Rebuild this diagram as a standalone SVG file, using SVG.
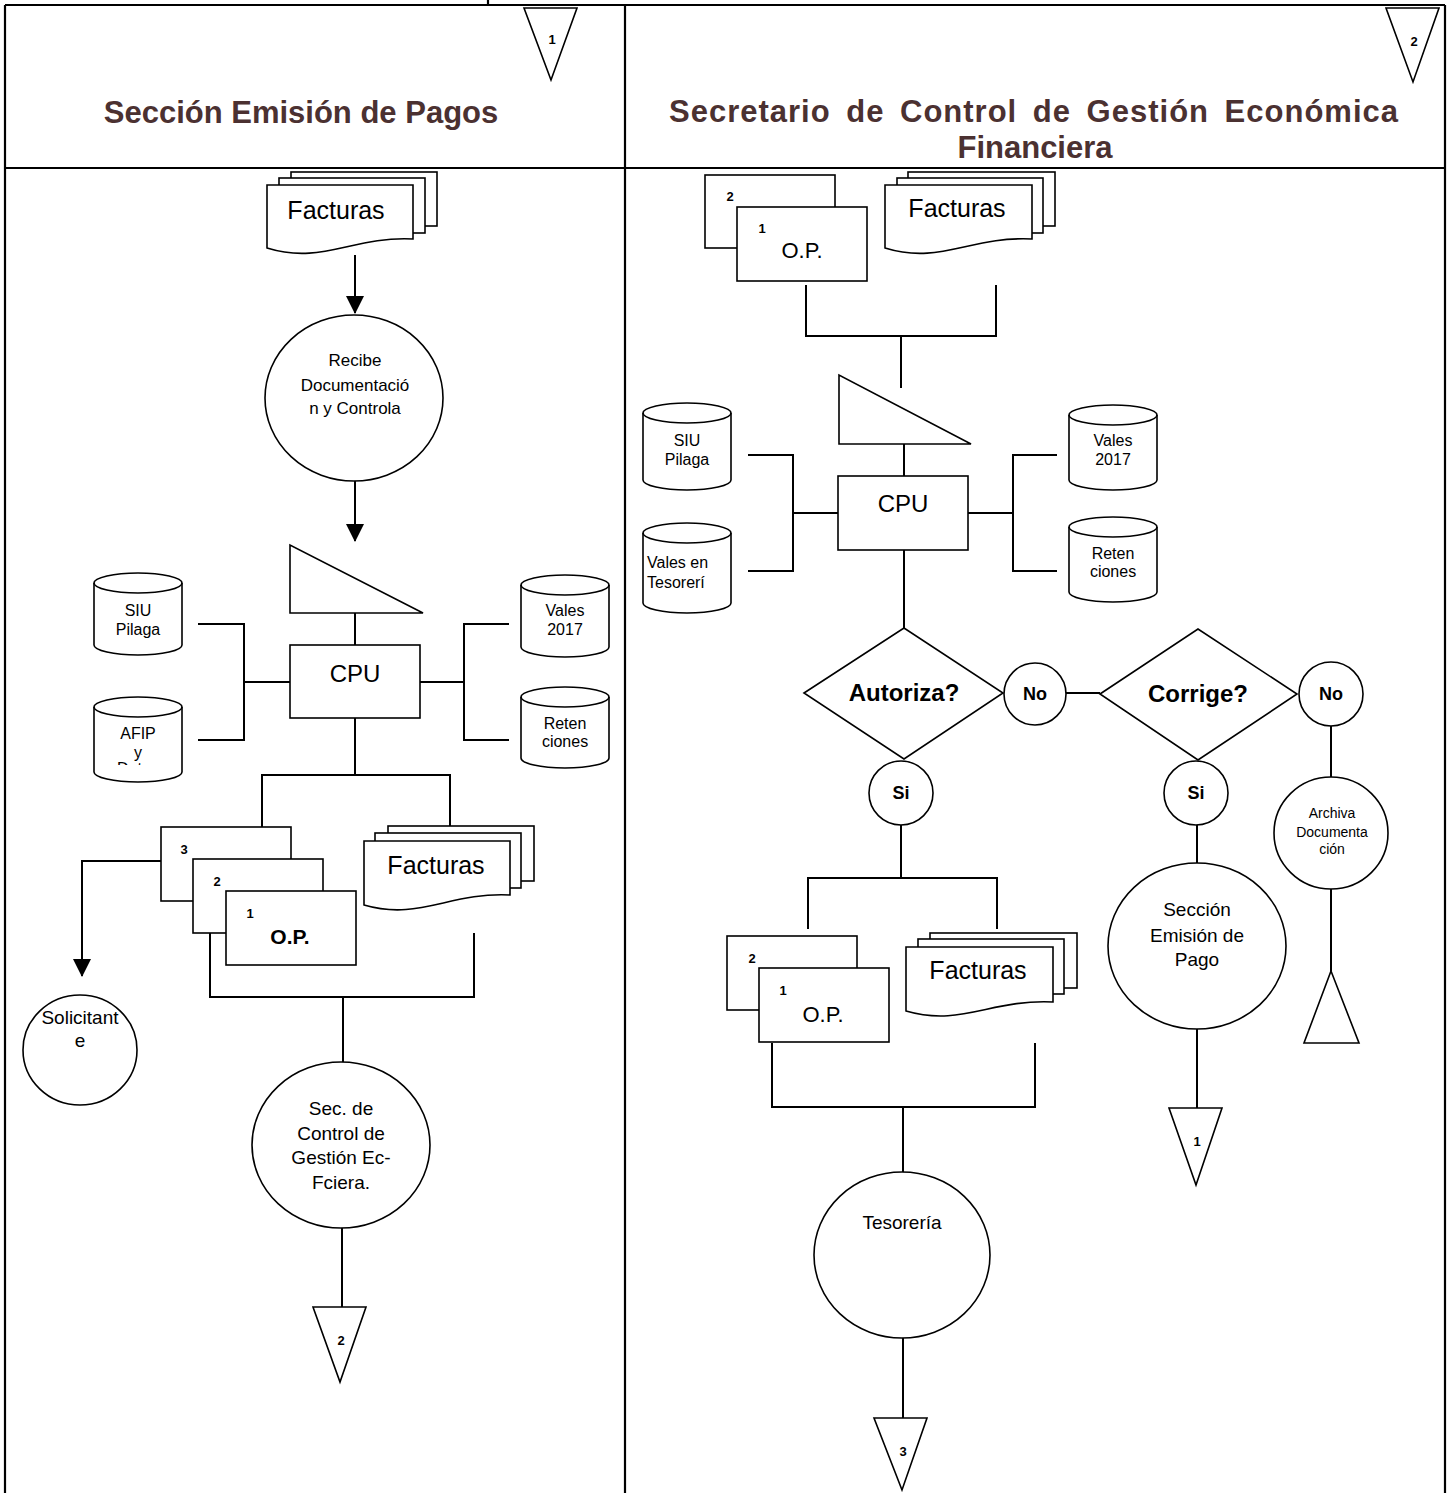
<svg xmlns="http://www.w3.org/2000/svg" width="1450" height="1493" viewBox="0 0 1450 1493">
<style>
.s{fill:#fff;stroke:#000;stroke-width:1.6}
.o{fill:none;stroke:#000;stroke-width:1.6}
.ln{fill:none;stroke:#000;stroke-width:2}
.bd{fill:none;stroke:#000;stroke-width:2.2}
text{font-family:"Liberation Sans",Arial,sans-serif;fill:#000;text-anchor:middle}
.ttl{font-size:31px;font-weight:bold;fill:#4b3131}
.b{font-weight:bold}
.n{font-size:13px;font-weight:bold}
.fac{font-size:25px}
.cyl{font-size:16px}
.big{font-size:19px}
</style>
<defs>
<marker id="ah" markerUnits="userSpaceOnUse" markerWidth="18" markerHeight="18" viewBox="0 0 18 18" refX="17" refY="9" orient="auto">
<path d="M0,0 L18,9 L0,18 z" fill="#000"/>
</marker>
<clipPath id="afipclip"><rect x="90" y="700" width="100" height="65"/></clipPath>
</defs>

<g id="table">
<path class="bd" d="M5,5 H1445 M5,5 V1493 M1445,5 V1493 M625,5 V1493 M5,168 H1445 M488,0 V5"/>
</g>

<g id="titles">
<text class="ttl" x="301" y="123">Sección Emisión de Pagos</text>
<text class="ttl" x="1034" y="122" style="word-spacing:6px;letter-spacing:1px">Secretario de Control de Gestión Económica</text>
<text class="ttl" x="1035" y="158">Financiera</text>
</g>

<g id="off-page-1-top">
<path class="s" d="M524,8 H577 L551,80 Z"/>
<text class="n" x="552" y="44">1</text>
</g>
<g id="off-page-2-top">
<path class="s" d="M1386,8 H1439 L1413,82 Z"/>
<text class="n" x="1414" y="46">2</text>
</g>

<g id="connectors">
<path class="ln" d="M355,255 V313" marker-end="url(#ah)"/>
<path class="ln" d="M355,481 V541" marker-end="url(#ah)"/>
<path class="ln" d="M355,613 V645"/>
<path class="ln" d="M198,624 H244 V740 H198 M244,682 H290"/>
<path class="ln" d="M419,682 H464 M509,624 H464 V740 H509"/>
<path class="ln" d="M355,718 V775 M262,827 V775 H450 V826"/>
<path class="ln" d="M161,861 H82 V976" marker-end="url(#ah)"/>
<path class="ln" d="M210,932 V997 H474 V933 M343,997 V1062"/>
<path class="ln" d="M342,1228 V1307"/>
<path class="ln" d="M806,285 V336 H996 V285 M901,336 V388"/>
<path class="ln" d="M904,444 V476"/>
<path class="ln" d="M748,455 H793 V571 H748 M793,513 H838"/>
<path class="ln" d="M968,513 H1013 M1057,455 H1013 V571 H1057"/>
<path class="ln" d="M904,550 V628"/>
<path class="ln" d="M1066,693 H1100"/>
<path class="ln" d="M901,825 V878 M808,929 V878 H997 V929"/>
<path class="ln" d="M772,1043 V1107 H1035 V1043 M903,1107 V1173"/>
<path class="ln" d="M903,1338 V1418"/>
<path class="ln" d="M1197,825 V863"/>
<path class="ln" d="M1197,1029 V1108"/>
<path class="ln" d="M1331,726 V777"/>
<path class="ln" d="M1331,889 V971"/>
</g>

<g id="facturas-1" transform="translate(267,185)">
<rect class="s" x="24" y="-13" width="146" height="54"/>
<rect class="s" x="12" y="-7" width="146" height="55"/>
<path class="s" d="M0,0 H146 V54 C85,51 55,80 0,63 Z"/>
<text class="fac" x="69" y="34">Facturas</text>
</g>

<g id="recibe">
<ellipse class="s" cx="354" cy="398" rx="89" ry="83"/>
<text style="font-size:17px" x="355" y="366">Recibe</text>
<text style="font-size:17px" x="355" y="391">Documentació</text>
<text style="font-size:17px" x="355" y="414">n y Controla</text>
</g>

<g id="manual-1">
<path class="s" d="M290,545 V613 H423 Z"/>
</g>

<g id="cpu-1">
<rect class="s" x="290" y="645" width="130" height="73"/>
<text style="font-size:24px" x="355" y="682">CPU</text>
</g>

<g id="siu-1">
<path class="s" d="M94,583 A44,10 0 0 1 182,583 V645 A44,10 0 0 1 94,645 Z"/>
<path class="o" d="M94,583 A44,10 0 0 0 182,583"/>
<text class="cyl" x="138" y="616">SIU</text>
<text class="cyl" x="138" y="635">Pilaga</text>
</g>

<g id="afip">
<path class="s" d="M94,707 A44,10 0 0 1 182,707 V772 A44,10 0 0 1 94,772 Z"/>
<path class="o" d="M94,707 A44,10 0 0 0 182,707"/>
<text class="cyl" x="138" y="739">AFIP</text>
<text class="cyl" x="138" y="758">y</text>
<text class="cyl" x="138" y="774" clip-path="url(#afipclip)">Datos</text>
</g>

<g id="vales-1">
<path class="s" d="M521,585 A44,10 0 0 1 609,585 V647 A44,10 0 0 1 521,647 Z"/>
<path class="o" d="M521,585 A44,10 0 0 0 609,585"/>
<text class="cyl" x="565" y="616">Vales</text>
<text class="cyl" x="565" y="635">2017</text>
</g>

<g id="retenciones-1">
<path class="s" d="M521,697 A44,10 0 0 1 609,697 V758 A44,10 0 0 1 521,758 Z"/>
<path class="o" d="M521,697 A44,10 0 0 0 609,697"/>
<text class="cyl" x="565" y="729">Reten</text>
<text class="cyl" x="565" y="747">ciones</text>
</g>

<g id="op-1">
<rect class="s" x="161" y="827" width="130" height="74"/>
<text class="n" x="184" y="854">3</text>
<rect class="s" x="193" y="859" width="130" height="74"/>
<text class="n" x="217" y="886">2</text>
<rect class="s" x="226" y="891" width="130" height="74"/>
<text class="n" x="250" y="918">1</text>
<text class="b" style="font-size:21px" x="290" y="944">O.P.</text>
</g>

<g id="facturas-2" transform="translate(364,841)">
<rect class="s" x="24" y="-15" width="146" height="55"/>
<rect class="s" x="11" y="-8" width="146" height="55"/>
<path class="s" d="M0,0 H146 V54 C85,51 55,80 0,64 Z"/>
<text class="fac" x="72" y="33">Facturas</text>
</g>

<g id="solicitante">
<ellipse class="s" cx="80" cy="1050" rx="57" ry="55"/>
<text class="big" x="80" y="1024">Solicitant</text>
<text class="big" x="80" y="1047">e</text>
</g>

<g id="sec-control">
<ellipse class="s" cx="341" cy="1145" rx="89" ry="83"/>
<text class="big" x="341" y="1115">Sec. de</text>
<text class="big" x="341" y="1140">Control de</text>
<text class="big" x="341" y="1164">Gestión Ec-</text>
<text class="big" x="341" y="1189">Fciera.</text>
</g>

<g id="off-page-2">
<path class="s" d="M313,1307 H366 L340,1382 Z"/>
<text class="n" x="341" y="1345">2</text>
</g>

<g id="op-2">
<rect class="s" x="705" y="175" width="130" height="73"/>
<text class="n" x="730" y="201">2</text>
<rect class="s" x="737" y="207" width="130" height="74"/>
<text class="n" x="762" y="233">1</text>
<text style="font-size:22px" x="802" y="258">O.P.</text>
</g>

<g id="facturas-3" transform="translate(885,185)">
<rect class="s" x="23" y="-13" width="147" height="54"/>
<rect class="s" x="12" y="-7" width="146" height="55"/>
<path class="s" d="M0,0 H147 V54 C85,51 55,80 0,63 Z"/>
<text class="fac" x="72" y="32">Facturas</text>
</g>

<g id="manual-2">
<path class="s" d="M839,375 V444 H971 Z"/>
</g>

<g id="cpu-2">
<rect class="s" x="838" y="476" width="130" height="74"/>
<text style="font-size:24px" x="903" y="512">CPU</text>
</g>

<g id="siu-2">
<path class="s" d="M643,413 A44,10 0 0 1 731,413 V480 A44,10 0 0 1 643,480 Z"/>
<path class="o" d="M643,413 A44,10 0 0 0 731,413"/>
<text class="cyl" x="687" y="446">SIU</text>
<text class="cyl" x="687" y="465">Pilaga</text>
</g>

<g id="vales-tesoreria">
<path class="s" d="M643,533 A44,10 0 0 1 731,533 V603 A44,10 0 0 1 643,603 Z"/>
<path class="o" d="M643,533 A44,10 0 0 0 731,533"/>
<text class="cyl" x="647" y="568" style="text-anchor:start">Vales en</text>
<text class="cyl" x="647" y="588" style="text-anchor:start">Tesorerí</text>
</g>

<g id="vales-2">
<path class="s" d="M1069,415 A44,10 0 0 1 1157,415 V480 A44,10 0 0 1 1069,480 Z"/>
<path class="o" d="M1069,415 A44,10 0 0 0 1157,415"/>
<text class="cyl" x="1113" y="446">Vales</text>
<text class="cyl" x="1113" y="465">2017</text>
</g>

<g id="retenciones-2">
<path class="s" d="M1069,527 A44,10 0 0 1 1157,527 V592 A44,10 0 0 1 1069,592 Z"/>
<path class="o" d="M1069,527 A44,10 0 0 0 1157,527"/>
<text class="cyl" x="1113" y="559">Reten</text>
<text class="cyl" x="1113" y="577">ciones</text>
</g>

<g id="autoriza">
<path class="s" d="M804,693 L904,628 L1003,693 L904,759 Z"/>
<text class="b" style="font-size:24px" x="904" y="701">Autoriza?</text>
</g>

<g id="no-1">
<circle class="s" cx="1035" cy="694" r="31"/>
<text class="b" style="font-size:18px" x="1035" y="700">No</text>
</g>

<g id="corrige">
<path class="s" d="M1100,694 L1198,629 L1297,694 L1198,760 Z"/>
<text class="b" style="font-size:24px" x="1198" y="702">Corrige?</text>
</g>

<g id="no-2">
<circle class="s" cx="1331" cy="694" r="32"/>
<text class="b" style="font-size:18px" x="1331" y="700">No</text>
</g>

<g id="si-1">
<circle class="s" cx="901" cy="793" r="32"/>
<text class="b" style="font-size:18px" x="901" y="799">Si</text>
</g>

<g id="si-2">
<circle class="s" cx="1196" cy="793" r="32"/>
<text class="b" style="font-size:18px" x="1196" y="799">Si</text>
</g>

<g id="archiva">
<ellipse class="s" cx="1331" cy="833" rx="57" ry="56"/>
<text style="font-size:14px" x="1332" y="818">Archiva</text>
<text style="font-size:14px" x="1332" y="837">Documenta</text>
<text style="font-size:14px" x="1332" y="854">ción</text>
</g>

<g id="archivo">
<path class="s" d="M1331,971 L1359,1043 H1304 Z"/>
</g>

<g id="seccion-emision">
<ellipse class="s" cx="1197" cy="946" rx="89" ry="83"/>
<text class="big" x="1197" y="916">Sección</text>
<text class="big" x="1197" y="942">Emisión de</text>
<text class="big" x="1197" y="966">Pago</text>
</g>

<g id="off-page-1">
<path class="s" d="M1169,1108 H1222 L1196,1185 Z"/>
<text class="n" x="1197" y="1146">1</text>
</g>

<g id="op-3">
<rect class="s" x="727" y="936" width="130" height="74"/>
<text class="n" x="752" y="963">2</text>
<rect class="s" x="759" y="968" width="130" height="74"/>
<text class="n" x="783" y="995">1</text>
<text style="font-size:22px" x="823" y="1022">O.P.</text>
</g>

<g id="facturas-4" transform="translate(906,947)">
<rect class="s" x="24" y="-14" width="147" height="55"/>
<rect class="s" x="12" y="-8" width="146" height="55"/>
<path class="s" d="M0,0 H147 V55 C85,52 55,80 0,64 Z"/>
<text class="fac" x="72" y="32">Facturas</text>
</g>

<g id="tesoreria">
<ellipse class="s" cx="902" cy="1255" rx="88" ry="83"/>
<text class="big" x="902" y="1229">Tesorería</text>
</g>

<g id="off-page-3">
<path class="s" d="M874,1418 H927 L902,1490 Z"/>
<text class="n" x="903" y="1456">3</text>
</g>
</svg>
